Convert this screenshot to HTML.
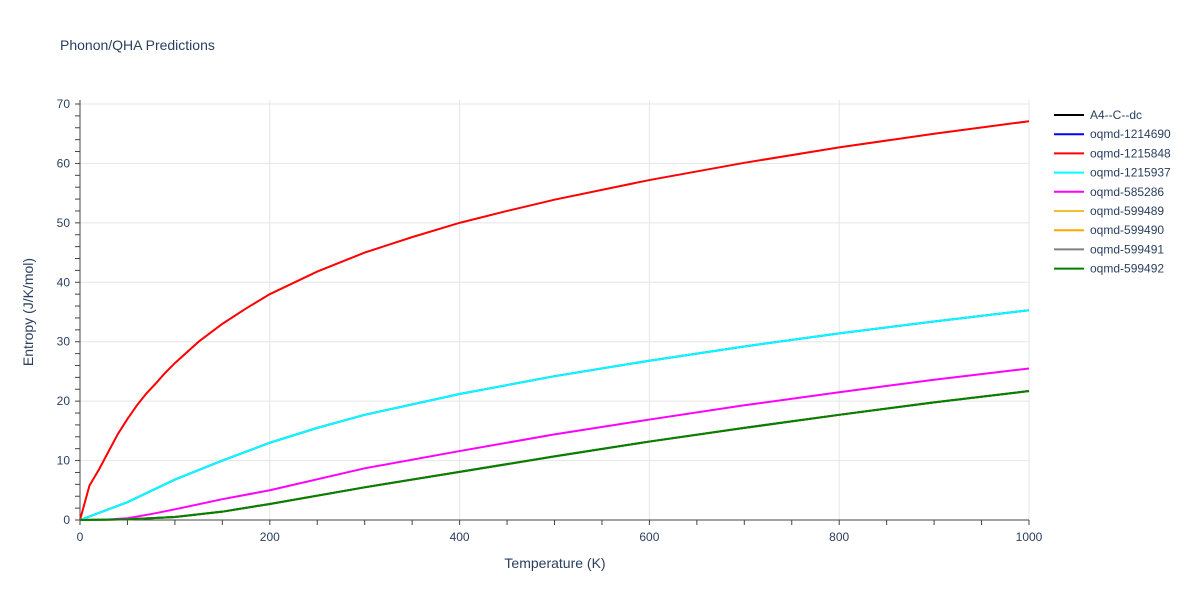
<!DOCTYPE html>
<html><head><meta charset="utf-8"><style>
body{margin:0;background:#fff;font-family:"Liberation Sans",sans-serif}
svg text{font-family:"Liberation Sans",sans-serif;fill:#2a3f5f}
</style></head><body>
<svg id="chart" width="1200" height="600" xmlns="http://www.w3.org/2000/svg">
<rect width="1200" height="600" fill="#fff"/>
<text x="60" y="50" font-size="14">Phonon/QHA Predictions</text>
<g id="grid"></g><g id="axes"></g><g id="series"></g><g id="legend"></g>
<text x="555" y="568" font-size="14" text-anchor="middle">Temperature (K)</text>
<text transform="translate(33,312) rotate(-90)" font-size="14" text-anchor="middle">Entropy (J/K/mol)</text>
</svg>
<script>
const xTicks=[0,200,400,600,800,1000];
const yTicks=[0,10,20,30,40,50,60,70];
const redT=[0,10,20,30,40,50,60,70,80,90,100,125,150,175,200,250,300,350,400,450,500,600,700,800,900,1000];
const redS=[0,5.8,8.5,11.5,14.5,17,19.3,21.3,23,24.8,26.4,30,33,35.6,38,41.8,45,47.6,50,52,53.9,57.2,60.1,62.7,65,67.1];
const cyanT=[0,50,100,150,200,250,300,400,500,600,700,800,900,1000];
const cyanS=[0,3,6.8,10,13,15.5,17.7,21.2,24.2,26.8,29.2,31.4,33.4,35.3];
const magT=[0,25,50,75,100,150,200,300,400,500,600,700,800,900,1000];
const magS=[0,0.05,0.3,1,1.8,3.5,5,8.7,11.6,14.4,16.9,19.3,21.5,23.6,25.5];
const grnT=[0,50,100,150,200,300,400,500,600,700,800,900,1000];
const grnS=[0,0.1,0.5,1.4,2.7,5.5,8.1,10.7,13.2,15.5,17.7,19.8,21.7];
const names=["A4--C--dc","oqmd-1214690","oqmd-1215848","oqmd-1215937","oqmd-585286","oqmd-599489","oqmd-599490","oqmd-599491","oqmd-599492"];
const colors=["#000000","#0000ff","#ff0000","#00ffff","#ff00ff","#f0c030","#ffa500","#808080","#008000"];
const seriesT=[grnT,cyanT,redT,cyanT,magT,grnT,grnT,grnT,grnT];
const seriesS=[grnS,cyanS,redS,cyanS,magS,grnS,grnS,grnS,grnS];
const NS="http://www.w3.org/2000/svg";
const X=v=>80+v*0.949, Y=v=>520-v*5.943;
function mk(tag,attrs,parent){const e=document.createElementNS(NS,tag);for(const k in attrs)e.setAttribute(k,attrs[k]);parent.appendChild(e);return e;}
const grid=document.getElementById('grid'),axes=document.getElementById('axes'),ser=document.getElementById('series'),leg=document.getElementById('legend');
xTicks.forEach(t=>{if(t>0){const l=mk('line',{x1:X(t),x2:X(t),y1:100,y2:520,stroke:'#e5e5e5','stroke-width':1},grid);

}
const tx=mk('text',{x:X(t),y:541,'font-size':12,'text-anchor':'middle'},axes);tx.textContent=t;

});
for(let t=0;t<=1000;t+=50){mk('line',{x1:X(t),x2:X(t),y1:520,y2:525,stroke:'#444','stroke-width':1},axes);}
yTicks.forEach(t=>{if(t>0){const l=mk('line',{x1:80,x2:1029,y1:Y(t),y2:Y(t),stroke:'#e5e5e5','stroke-width':1},grid);

}
const tx=mk('text',{x:70,y:Y(t)+4,'font-size':12,'text-anchor':'end'},axes);tx.textContent=t;

});
for(let t=0;t<=70;t+=2){mk('line',{x1:75,x2:80,y1:Y(t),y2:Y(t),stroke:'#444','stroke-width':1},axes);}
mk('line',{x1:80,x2:80,y1:100,y2:520,stroke:'#444','stroke-width':1},axes);
mk('line',{x1:80,x2:1029,y1:520,y2:520,stroke:'#444','stroke-width':1},axes);
names.forEach((n,i)=>{
const p=mk('polyline',{points:seriesT[i].map((t,j)=>X(t)+','+Y(seriesS[i][j])).join(' '),fill:'none',stroke:colors[i],'stroke-width':2},ser);


const y=115+i*19.2;
const g=mk('g',{},leg);


mk('line',{x1:1054,x2:1084,y1:y,y2:y,stroke:colors[i],'stroke-width':2},g);
const tx=mk('text',{x:1090,y:y+4,'font-size':12},g);tx.textContent=n;
});
</script>
</body></html>
